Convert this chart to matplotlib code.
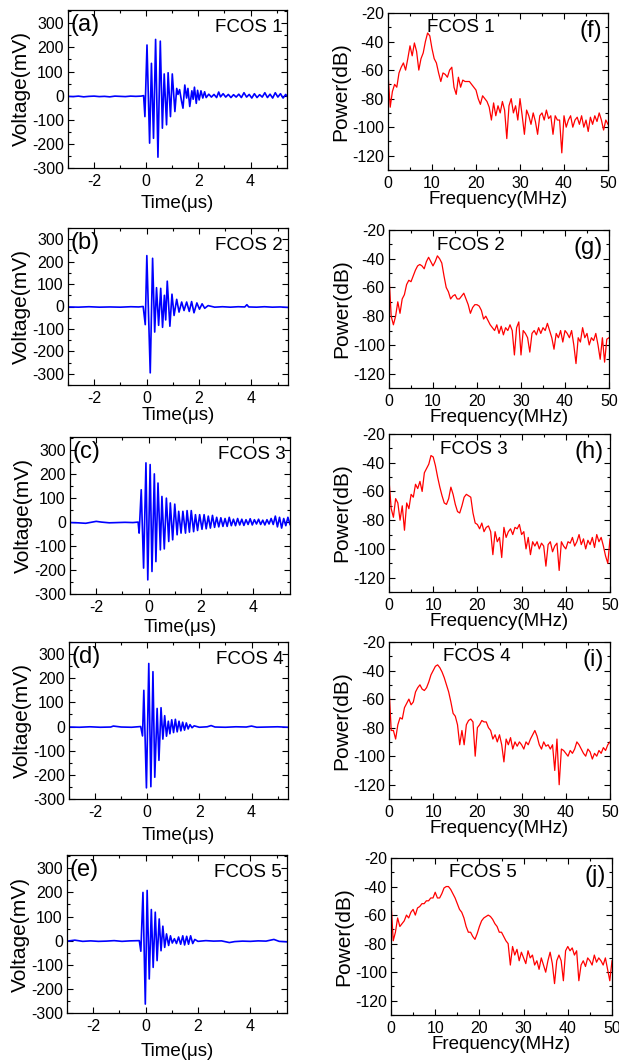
import numpy as np
import matplotlib
matplotlib.use('Agg')
import matplotlib.pyplot as plt
from matplotlib.ticker import MultipleLocator

plt.rcParams['font.family'] = ['Liberation Sans', 'DejaVu Sans']
plt.rcParams['axes.unicode_minus'] = False

W, H = 619, 1062

# ---- time domain (a)-(e): time in us, voltage in mV ----
t_a = [-3.0, -2.8, -2.6, -2.4, -2.2, -2.0, -1.8, -1.6, -1.4, -1.2, -1.0, -0.8, -0.6, -0.4, -0.2, -0.1,
       -0.05, 0.03, 0.13, 0.20, 0.28, 0.36, 0.45, 0.54, 0.62, 0.69, 0.78, 0.84, 0.93, 1.00, 1.10,
       1.17, 1.22, 1.28, 1.35, 1.41, 1.48, 1.55, 1.60, 1.67, 1.75, 1.80, 1.85, 1.92, 1.97, 2.03,
       2.10, 2.17, 2.24, 2.30, 2.40, 2.50, 2.60, 2.70, 2.78, 2.85, 2.95, 3.05, 3.15, 3.25, 3.35,
       3.45, 3.55, 3.65, 3.75, 3.85, 3.95, 4.05, 4.15, 4.25, 4.35, 4.45, 4.55, 4.65, 4.75, 4.85,
       4.95, 5.05, 5.15, 5.25, 5.35, 5.40]
v_a = [-3, -4, -2, -5, -3, -2, -4, -3, -5, -2, -3, -4, -2, -3, -2, 0,
       -87, 210, -197, 134, -177, 233, -255, 226, -135, 90, -121, 95, -87, 90, -66,
       30, 5, 25, -20, -52, 44, -10, 30, -45, 20, -15, 35, -32, 22, -18,
       20, -10, 16, -8, 6, -6, 5, -8, 15, -5, 8, -6, 5, -8, 4,
       -6, 6, -8, 12, -6, 5, -10, 8, -8, 4, -6, 12, -8, 6, -10,
       12, -6, 8, -10, 5, -2]

t_b = [-3.0, -2.6, -2.2, -1.8, -1.4, -1.0, -0.6, -0.3, -0.13,
       -0.05, 0.01, 0.14, 0.23, 0.31, 0.38, 0.46, 0.54, 0.61, 0.68, 0.73, 0.79, 0.89, 0.97, 1.05,
       1.15, 1.24, 1.34, 1.43, 1.53, 1.63, 1.72, 1.81, 1.92, 2.02, 2.12, 2.22, 2.35, 2.6, 2.9,
       3.2, 3.5, 3.75, 3.83, 3.9, 4.2, 4.5, 4.8, 5.1, 5.4]
v_b = [-2, -3, -1, -3, -2, -3, -1, -2, 0,
       -81, 227, -296, 215, -114, 84, -84, 81, -93, 50, -60, 113, -88, 55, -40,
       32, -25, 20, -18, 20, -22, 22, -28, 16, -12, 12, -8, 4, -3, -1,
       -3, -1, -2, 8, -2, -3, -1, -3, -2, -4]

t_c = [-3.0, -2.7, -2.4, -2.2, -2.0, -1.8, -1.5, -1.2, -0.9, -0.6, -0.4,
       -0.36, -0.28, -0.19, -0.10, -0.03, 0.06, 0.13, 0.22, 0.28, 0.36, 0.45, 0.51, 0.60, 0.68,
       0.77, 0.83, 0.92, 1.00, 1.09, 1.15, 1.24, 1.31, 1.41, 1.47, 1.56, 1.63, 1.72, 1.79, 1.87,
       1.95, 2.04, 2.12, 2.20, 2.28, 2.36, 2.44, 2.52, 2.60, 2.68, 2.76, 2.84, 2.92, 3.00, 3.08,
       3.16, 3.24, 3.32, 3.40, 3.48, 3.56, 3.64, 3.72, 3.80, 3.88, 3.96, 4.04, 4.12, 4.20, 4.28,
       4.36, 4.44, 4.52, 4.60, 4.68, 4.76, 4.84, 4.92, 5.00, 5.08, 5.16, 5.24, 5.32, 5.40]
v_c = [-2, -3, -5, -1, 3, 0, -3, -2, -1, -2, 0,
       -46, 135, -192, 247, -241, 240, -206, 201, -165, 163, -116, 107, -112, 100,
       -81, 80, -74, 75, -53, 45, -46, 45, -46, 48, -42, 48, -40, 31, -35,
       31, -30, 31, -28, 25, -25, 28, -22, 20, -20, 18, -18, 15, -18, 20,
       -15, 12, -15, 15, -12, 12, -14, 10, -10, 14, -12, 10, -8, 12, -10,
       8, -12, 10, -8, 15, -10, 25, -20, 20, -25, 15, -15, 20, -10]

t_d = [-3.0, -2.6, -2.2, -1.8, -1.4, -1.3, -1.0, -0.6, -0.25,
       -0.18, -0.13, -0.03, 0.06, 0.14, 0.22, 0.29, 0.38, 0.45, 0.53, 0.60, 0.67, 0.74, 0.81,
       0.87, 0.94, 1.01, 1.08, 1.15, 1.22, 1.29, 1.36, 1.43, 1.50, 1.57, 1.64, 1.72, 1.80,
       2.0, 2.3, 2.45, 2.6, 3.0, 3.4, 3.8, 4.0, 4.2, 4.6, 5.0, 5.4]
v_d = [-2, -3, -1, -3, -2, 2, -2, -3, 0,
       -39, 150, -254, 261, -249, 227, -210, 75, -140, 78, -52, 45, -40, 22,
       -30, 28, -25, 30, -22, 22, -18, 18, -15, 15, -10, 8, -5, 3,
       -3, -1, 4, -2, -3, -1, -2, 2, -3, -2, -1, -3]

t_e = [-3.0, -2.7, -2.4, -2.1, -1.8, -1.5, -1.2, -0.9, -0.6, -0.24,
       -0.18, -0.10, -0.01, 0.06, 0.14, 0.22, 0.29, 0.37, 0.44, 0.52, 0.59, 0.66, 0.73, 0.80,
       0.88, 0.95, 1.02, 1.10, 1.18, 1.26, 1.34, 1.42, 1.49, 1.57, 1.64, 1.72, 1.80, 1.88,
       2.0, 2.3, 2.6, 2.9, 3.2, 3.4, 3.7, 4.0, 4.3, 4.6, 4.9, 5.1, 5.4]
v_e = [-2, 2, -3, -1, -3, -2, 0, -3, -1, 0,
       -44, 200, -263, 208, -159, 129, -111, 118, -83, 90, -42, 60, -28, 28,
       -20, 20, -10, 8, -12, 15, -15, 20, -18, 18, -15, 20, -12, 5,
       -3, 0, -2, -1, -8, -4, -2, -3, -1, -2, 5, -3, -5]

# ---- spectra (f)-(j): power in dB on a 0.5 MHz grid ----
freq = np.linspace(0, 50, 101)

p_f = [-62, -86, -75, -70, -72, -62, -58, -55, -60, -52, -43, -50, -41, -47, -60, -52, -48, -40, -34, -36,
       -45, -52, -55, -62, -68, -62, -63, -65, -60, -58, -72, -77, -65, -72, -67, -68, -68, -68, -70, -72,
       -74, -80, -84, -78, -80, -82, -86, -95, -83, -92, -85, -90, -82, -88, -108, -85, -80, -90, -85, -95,
       -80, -92, -105, -88, -92, -98, -90, -96, -105, -92, -90, -95, -88, -94, -92, -105, -92, -95, -95, -118,
       -92, -100, -95, -92, -100, -95, -93, -98, -92, -100, -95, -103, -93, -98, -92, -96, -90, -95, -102, -95,
       -98]
p_g = [-52, -80, -86, -80, -70, -78, -68, -65, -58, -55, -56, -52, -48, -45, -44, -45, -47, -42, -39, -42,
       -45, -42, -38, -40, -43, -52, -60, -63, -68, -66, -65, -68, -68, -66, -64, -68, -72, -78, -74, -72,
       -72, -73, -76, -82, -80, -83, -86, -88, -90, -86, -92, -87, -93, -88, -90, -86, -90, -107, -88, -84,
       -107, -90, -92, -95, -105, -92, -90, -93, -88, -92, -88, -90, -85, -90, -95, -103, -92, -95, -90, -98,
       -90, -92, -95, -90, -100, -113, -95, -98, -88, -95, -92, -100, -95, -97, -92, -100, -110, -95, -112, -96,
       -95]
p_h = [-52, -72, -78, -65, -68, -80, -70, -87, -68, -72, -62, -64, -55, -58, -53, -60, -47, -44, -41, -35,
       -36, -42, -50, -57, -63, -68, -69, -65, -57, -62, -69, -74, -75, -70, -64, -62, -63, -64, -75, -82,
       -83, -86, -82, -88, -85, -84, -88, -104, -88, -95, -92, -106, -85, -92, -88, -86, -90, -85, -86, -83,
       -90, -88, -100, -92, -104, -95, -98, -95, -100, -96, -98, -112, -97, -95, -102, -98, -96, -115, -95, -98,
       -100, -95, -96, -92, -98, -95, -90, -97, -93, -100, -94, -97, -92, -99, -90, -95, -92, -98, -105, -110,
       -93]
p_i = [-52, -82, -82, -88, -78, -73, -74, -66, -63, -60, -64, -62, -55, -52, -50, -53, -54, -52, -48, -43,
       -40, -37, -36, -38, -41, -45, -50, -55, -62, -70, -72, -78, -92, -82, -92, -78, -75, -74, -76, -100,
       -80, -78, -75, -76, -76, -80, -82, -88, -85, -90, -85, -92, -104, -88, -92, -87, -95, -90, -93, -90,
       -92, -95, -90, -92, -88, -85, -82, -86, -92, -95, -90, -93, -92, -95, -92, -110, -88, -120, -95, -96,
       -98, -100, -96, -98, -95, -90, -92, -95, -98, -100, -95, -97, -102, -98, -100, -96, -98, -94, -96, -92,
       -90]
p_j = [-50, -78, -72, -62, -68, -66, -64, -60, -62, -58, -56, -60, -55, -54, -52, -52, -50, -50, -48, -48,
       -44, -48, -48, -45, -41, -40, -40, -42, -45, -48, -52, -56, -58, -62, -68, -72, -72, -75, -77, -73,
       -68, -64, -62, -61, -60, -61, -63, -66, -68, -72, -72, -75, -78, -80, -95, -82, -88, -84, -92, -86,
       -90, -94, -85, -90, -88, -95, -92, -98, -90, -95, -100, -92, -86, -94, -108, -92, -88, -92, -106, -85,
       -82, -85, -83, -88, -85, -106, -95, -92, -96, -90, -92, -95, -88, -93, -90, -92, -95, -90, -98, -106,
       -92]

time_sets = [(t_a, v_a, '(a)', 'FCOS 1'), (t_b, v_b, '(b)', 'FCOS 2'), (t_c, v_c, '(c)', 'FCOS 3'),
             (t_d, v_d, '(d)', 'FCOS 4'), (t_e, v_e, '(e)', 'FCOS 5')]
spec_sets = [(p_f, '(f)', 'FCOS 1'), (p_g, '(g)', 'FCOS 2'), (p_h, '(h)', 'FCOS 3'),
             (p_i, '(i)', 'FCOS 4'), (p_j, '(j)', 'FCOS 5')]

# pixel boxes: left, right, top, bottom
left_boxes = [(68, 287, 10, 168), (68, 288, 228, 385), (70, 290, 437, 594),
              (69, 288, 642, 799), (67, 287, 855, 1013)]
right_boxes = [(388, 608, 13, 170), (389, 609, 230, 388), (389, 610, 434, 592),
               (389, 610, 642, 799), (391, 612, 858, 1015)]
left_ylims = [(-300, 355), (-350, 350), (-300, 355), (-300, 350), (-300, 355)]
time_pads = [5, 1, 3, 5, 7]
name_x = [16.6, 18.6, 19.3, 19.8, 20.7]


def box_axes(fig, box):
    l, r, t, b = box
    return fig.add_axes([l / W, 1 - b / H, (r - l) / W, (b - t) / H])


def style(ax):
    ax.tick_params(which='both', direction='in', top=True, right=True, labelsize=11.5)
    ax.tick_params(which='major', length=4, width=0.8)
    ax.tick_params(which='minor', length=2, width=0.8)
    ax.tick_params(axis='x', pad=4)
    ax.tick_params(axis='y', pad=3)
    for s in ax.spines.values():
        s.set_linewidth(0.9)


fig = plt.figure(figsize=(W / 100, H / 100), dpi=100)

for i, (t, v, tag, name) in enumerate(time_sets):
    ax = box_axes(fig, left_boxes[i])
    ax.plot(t, v, color='#0000ff', lw=1.2)
    ax.set_xlim(-3, 5.4)
    ax.set_ylim(*left_ylims[i])
    ax.xaxis.set_major_locator(MultipleLocator(2))
    ax.xaxis.set_minor_locator(MultipleLocator(1))
    ax.yaxis.set_major_locator(MultipleLocator(100))
    ax.yaxis.set_minor_locator(MultipleLocator(50))
    style(ax)
    ax.set_xlabel('Time(\u03bcs)', fontsize=13.5, labelpad=time_pads[i])
    ax.set_ylabel('Voltage(mV)', fontsize=15, labelpad=1)
    ax.text(0.01, 0.905, tag, transform=ax.transAxes, fontsize=17, va='center', ha='left')
    ax.text(0.978, 0.89, name, transform=ax.transAxes, fontsize=13.5, va='center', ha='right')

for i, (p, tag, name) in enumerate(spec_sets):
    ax = box_axes(fig, right_boxes[i])
    ax.plot(freq, p, color='#ff0000', lw=0.9)
    ax.set_xlim(0, 50)
    ax.set_ylim(-130, -20)
    ax.xaxis.set_major_locator(MultipleLocator(10))
    ax.xaxis.set_minor_locator(MultipleLocator(5))
    ax.yaxis.set_major_locator(MultipleLocator(20))
    ax.yaxis.set_minor_locator(MultipleLocator(10))
    style(ax)
    ax.set_xlabel('Frequency(MHz)', fontsize=13.5, labelpad=0)
    ax.set_ylabel('Power(dB)', fontsize=15, labelpad=1)
    ax.text(name_x[i], 0.905, name, transform=ax.get_xaxis_transform(), fontsize=13.5,
            va='center', ha='center')
    ax.text(0.973, 0.885, tag, transform=ax.transAxes, fontsize=17, va='center', ha='right')

fig.savefig('out.png', dpi=100)
